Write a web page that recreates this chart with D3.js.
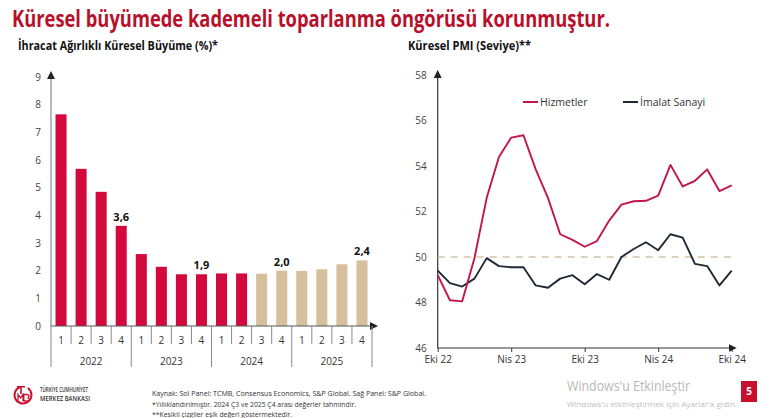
<!DOCTYPE html>
<html><head><meta charset="utf-8">
<script src="https://cdn.jsdelivr.net/npm/d3@7"></script>
<style>
html,body{margin:0;padding:0;background:#fff;}
svg{display:block;font-family:"Open Sans","Noto Sans",sans-serif;}
</style></head>
<body>
<svg id="c" width="770" height="418"></svg>
<script>
// ---- data ----
const quarters = ["1","2","3","4","1","2","3","4","1","2","3","4","1","2","3","4"];
const years = ["2022","2023","2024","2025"];
const growth = [7.65, 5.68, 4.85, 3.62, 2.6, 2.14, 1.87, 1.87, 1.9, 1.9, 1.89, 2.0, 1.99, 2.05, 2.23, 2.37];
const isForecast = [0,0,0,0,0,0,0,0,0,0,1,1,1,1,1,1];
const barLabels = [null,null,null,"3,6",null,null,null,"1,9",null,null,null,"2,0",null,null,null,"2,4"];
const leftTicks = [0,1,2,3,4,5,6,7,8,9];

const hizmetler = [49.2, 48.1, 48.05, 49.95, 52.6, 54.4, 55.25, 55.35, 53.85, 52.6, 51.0, 50.75, 50.45, 50.7, 51.6, 52.3, 52.45, 52.47, 52.7, 54.05, 53.1, 53.35, 53.85, 52.9, 53.15];
const imalat = [49.4, 48.85, 48.7, 49.05, 49.95, 49.6, 49.55, 49.55, 48.75, 48.65, 49.05, 49.2, 48.8, 49.25, 49.0, 50.0, 50.35, 50.65, 50.3, 51.0, 50.85, 49.7, 49.6, 48.75, 49.4];
const monthTickIdx = [0, 6, 12, 18, 24];
const monthTickLabels = ["Eki 22", "Nis 23", "Eki 23", "Nis 24", "Eki 24"];
const rightTicks = [46, 48, 50, 52, 54, 56, 58];
const threshold = 50;

const svg = d3.select("#c");

function fit(sel, w){
  sel.attr("textLength", w).attr("lengthAdjust","spacingAndGlyphs");
  return sel;
}

const defs = svg.append("defs");
defs.append("marker").attr("id","arr").attr("viewBox","0 0 10 10").attr("refX",5).attr("refY",5)
  .attr("markerWidth",8).attr("markerHeight",8).attr("orient","auto-start-reverse").attr("markerUnits","userSpaceOnUse")
  .append("path").attr("d","M0,0 L10,5 L0,10 z").attr("fill","#222");

// ---- titles ----
fit(svg.append("text").attr("x",12).attr("y",27).attr("font-size",23).attr("font-weight",700)
  .attr("fill","#B8102A").text("Küresel büyümede kademeli toparlanma öngörüsü korunmuştur."), 598);
fit(svg.append("text").attr("x",18).attr("y",50).attr("font-size",12).attr("font-weight",700)
  .attr("fill","#111").text("İhracat Ağırlıklı Küresel Büyüme (%)*"), 200);
fit(svg.append("text").attr("x",408).attr("y",50).attr("font-size",12).attr("font-weight",700)
  .attr("fill","#111").text("Küresel PMI (Seviye)**"), 123);

// ---- left bar chart ----
const bars = growth.map((v,i)=>({i, v, q:quarters[i], f:isForecast[i], label:barLabels[i]}));
const yL = d3.scaleLinear().domain([0,9]).range([326,77]);
const xL = d3.scaleBand().domain(d3.range(growth.length)).range([51,372]).paddingInner(0.45).paddingOuter(0.225);
const gL = svg.append("g");

const axL = d3.axisLeft(yL).tickValues(leftTicks).tickSize(0).tickPadding(10).tickFormat(d3.format("d"));
const gAxL = gL.append("g").attr("transform","translate(51,0)").call(axL);
gAxL.select(".domain").remove();
gAxL.selectAll("text").attr("font-size",10).attr("fill","#444").attr("font-family","Open Sans, sans-serif");

gL.selectAll("rect.bar").data(bars).join("rect").attr("class","bar")
  .attr("x",d=>xL(d.i)).attr("width",xL.bandwidth())
  .attr("y",d=>yL(d.v)).attr("height",d=>yL(0)-yL(d.v))
  .attr("fill",d=>d.f ? "#D6BF9C" : "#D3083C");

gL.selectAll("text.bl").data(bars.filter(d=>d.label)).join("text").attr("class","bl")
  .attr("x",d=>xL(d.i)+xL.bandwidth()/2).attr("y",d=>yL(d.v)-5)
  .attr("text-anchor","middle").attr("font-size",11).attr("font-weight",700).attr("fill","#111")
  .text(d=>d.label);

gL.append("line").attr("x1",51).attr("x2",51).attr("y1",yL(0)).attr("y2",yL(9)-2)
  .attr("stroke","#888").attr("stroke-width",1.2).attr("marker-end","url(#arr)");
gL.append("line").attr("x1",51).attr("x2",374).attr("y1",yL(0)).attr("y2",yL(0))
  .attr("stroke","#555").attr("stroke-width",1.2).attr("marker-end","url(#arr)");

const step = xL.step();
const sepX = d3.range(growth.length+1).map(k=>51 + k*step);
gL.selectAll("line.sep").data(sepX).join("line").attr("class","sep")
  .attr("x1",d=>d).attr("x2",d=>d).attr("y1",yL(0)).attr("y2",(d,k)=> k%4===0 ? 367 : 344)
  .attr("stroke","#888").attr("stroke-width",1);

gL.selectAll("text.q").data(bars).join("text").attr("class","q")
  .attr("x",d=>xL(d.i)+xL.bandwidth()/2).attr("y",344).attr("text-anchor","middle")
  .attr("font-size",10).attr("fill","#333").text(d=>d.q);
gL.selectAll("text.yr").data(years).join("text").attr("class","yr")
  .attr("x",(d,i)=>51 + (i*4+2)*step).attr("y",365).attr("text-anchor","middle")
  .attr("font-size",10).attr("fill","#333").text(d=>d);

// ---- right line chart ----
const xR = d3.scaleLinear().domain([0,24]).range([437.7,731.7]);
const yR = d3.scaleLinear().domain([46,58]).range([348,75]);
const gR = svg.append("g");

const axRy = d3.axisLeft(yR).tickValues(rightTicks).tickSize(0).tickPadding(11);
const gAxRy = gR.append("g").attr("transform",`translate(${xR(0)},0)`).call(axRy);
gAxRy.select(".domain").remove();
gAxRy.selectAll("text").attr("font-size",10).attr("fill","#444").attr("font-family","Open Sans, sans-serif");

const axRx = d3.axisBottom(xR).tickValues(monthTickIdx).tickSize(4).tickPadding(4)
  .tickFormat((d,i)=>monthTickLabels[i]);
const gAxRx = gR.append("g").attr("transform",`translate(0,${yR(46)})`).call(axRx);
gAxRx.select(".domain").remove();
gAxRx.selectAll("line").attr("stroke","#333");
gAxRx.selectAll("text").attr("font-size",10).attr("fill","#333").attr("font-family","Open Sans, sans-serif");

gR.append("line").attr("x1",xR(0)).attr("x2",xR(0)).attr("y1",yR(46)).attr("y2",yR(58)-1)
  .attr("stroke","#333").attr("stroke-width",1.2).attr("marker-end","url(#arr)");
gR.append("line").attr("x1",xR(0)).attr("x2",xR(24)+1).attr("y1",yR(46)).attr("y2",yR(46))
  .attr("stroke","#333").attr("stroke-width",1.2).attr("marker-end","url(#arr)");

gR.append("line").attr("x1",xR(0)).attr("x2",xR(24)).attr("y1",yR(threshold)).attr("y2",yR(threshold))
  .attr("stroke","#D3C3A6").attr("stroke-width",1.6).attr("stroke-dasharray","7,6");

const line = d3.line().x((d,i)=>xR(i)).y(d=>yR(d));
gR.append("path").datum(imalat).attr("d",line).attr("fill","none").attr("stroke","#1E2935").attr("stroke-width",1.9).attr("stroke-linejoin","round");
gR.append("path").datum(hizmetler).attr("d",line).attr("fill","none").attr("stroke","#C2164B").attr("stroke-width",1.9).attr("stroke-linejoin","round");

const legend = [{name:"Hizmetler", color:"#C2164B", x:523},{name:"İmalat Sanayi", color:"#1E2935", x:623}];
const lg = gR.selectAll("g.lg").data(legend).join("g").attr("class","lg").attr("transform",d=>`translate(${d.x},102)`);
lg.append("line").attr("x1",0).attr("x2",15).attr("stroke",d=>d.color).attr("stroke-width",2);
lg.append("text").attr("x",17).attr("y",4).attr("font-size",10.5).attr("fill","#333").text(d=>d.name);

// ---- footer ----
const logo = svg.append("g").attr("transform","translate(23,395)");
logo.append("path").attr("d", d3.arc()({innerRadius:7.5, outerRadius:9.5, startAngle:0.6, endAngle:2*Math.PI-0.35}))
  .attr("fill","#C8102E");
logo.append("path").attr("d","M-6,-9 H2 V-7.5 H-1.2 V-1 H-2.8 V-7.5 H-6 Z").attr("fill","#C8102E");
logo.append("path").attr("d","M-5,6 V-0.5 L-2.5,3 L0,-0.5 V6 M0.8,6 V-0.5 H3.5 Q6,-0.5 6,1.5 Q6,2.6 4.6,2.8 Q6.5,3.1 6.5,4.4 Q6.5,6 4,6 Z")
  .attr("fill","none").attr("stroke","#C8102E").attr("stroke-width",1.3);
fit(svg.append("text").attr("x",40).attr("y",392).attr("font-size",6.5).attr("font-weight",600).attr("fill","#333")
  .text("TÜRKİYE CUMHURİYET"), 48);
fit(svg.append("text").attr("x",40).attr("y",401).attr("font-size",7).attr("font-weight",600).attr("fill","#333")
  .text("MERKEZ BANKASI"), 50);

const notes = [
  {t:"Kaynak: Sol Panel: TCMB, Consensus Economics, S&P Global. Sağ Panel: S&P Global.", w:274},
  {t:"*Yıllıklandırılmıştır. 2024 Ç3 ve 2025 Ç4 arası değerler tahmindir.", w:204},
  {t:"**Kesikli çizgiler eşik değeri göstermektedir.", w:140}
];
svg.selectAll("text.note").data(notes).join("text").attr("class","note")
  .attr("x",152).attr("y",(d,i)=>396 + i*10.5).attr("font-size",7.5).attr("fill","#333").text(d=>d.t)
  .attr("textLength",d=>d.w).attr("lengthAdjust","spacingAndGlyphs");

fit(svg.append("text").attr("x",567).attr("y",391).attr("font-size",14).attr("fill","#B8B8B8")
  .text("Windows'u Etkinleştir"), 123);
fit(svg.append("text").attr("x",567).attr("y",407).attr("font-size",7.5).attr("fill","#C0C0C0")
  .text("Windows'u etkinleştirmek için Ayarlar'a gidin."), 170);

svg.append("rect").attr("x",741).attr("y",381).attr("width",16).attr("height",21).attr("fill","#C8102E");
svg.append("text").attr("x",749).attr("y",395).attr("text-anchor","middle").attr("font-size",10).attr("font-weight",700)
  .attr("fill","#fff").text("5");
</script>
</body></html>
